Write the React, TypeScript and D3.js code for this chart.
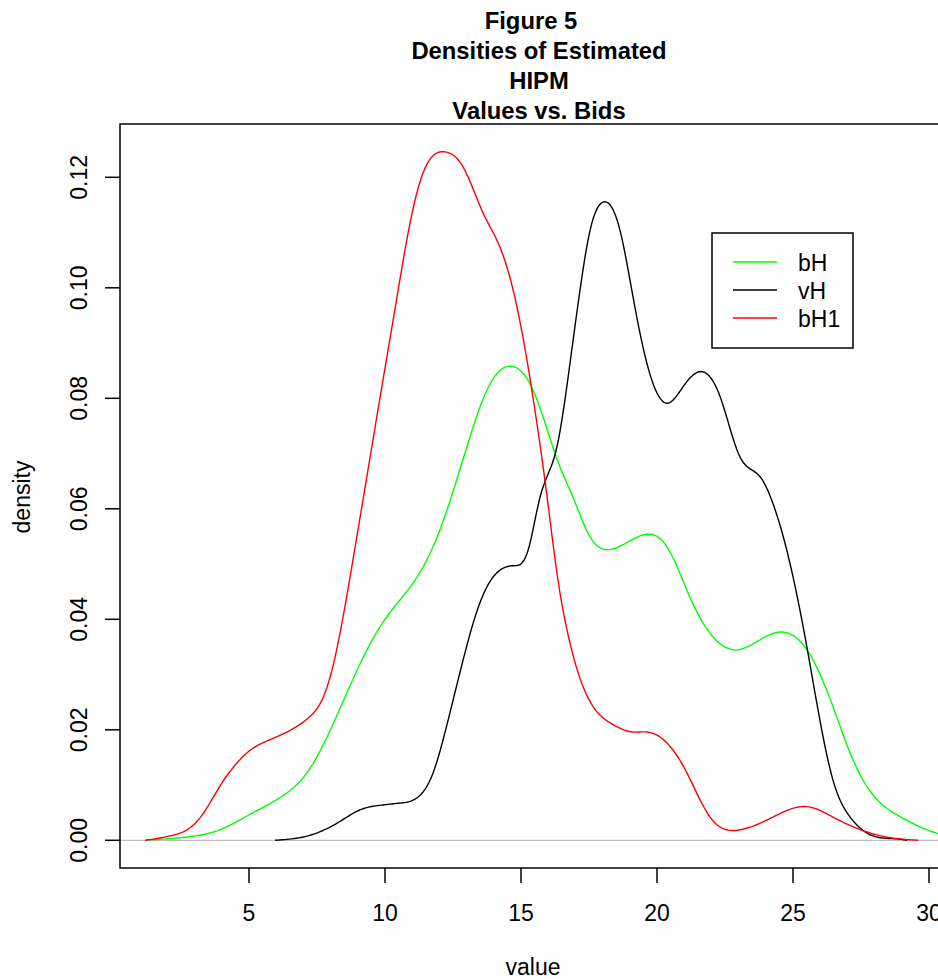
import * as d3 from 'd3';
import * as React from 'react';

// density curves (x = value, y = density)
const bHx = [1.18, 2.72, 3.93, 5.15, 6.4, 7.13, 7.87, 8.6, 9.34, 10.07, 11.2, 12.02, 13.01, 13.75, 14.67, 15.44, 16.43, 16.91, 17.54, 18.2, 19.63, 20.37, 21.21, 22.06, 22.98, 23.79, 24.6, 25.51, 26.47, 27.1, 27.72, 28.93, 30.29, 31.1];
const bHy = [0, 0.0006, 0.0019, 0.005, 0.0086, 0.0122, 0.0187, 0.0267, 0.0345, 0.0405, 0.0478, 0.0562, 0.0712, 0.0815, 0.0858, 0.0815, 0.0676, 0.0621, 0.0549, 0.0526, 0.0554, 0.0531, 0.044, 0.0368, 0.0345, 0.0363, 0.0377, 0.0345, 0.0242, 0.0158, 0.0097, 0.0043, 0.0013, 0.0006];

const vHx = [5.96, 6.99, 8.24, 9.08, 9.93, 10.49, 11.18, 11.76, 12.13, 12.5, 12.87, 13.24, 13.75, 14.23, 14.71, 15.26, 15.7, 16.32, 16.8, 17.17, 17.54, 18.01, 18.64, 19.12, 19.63, 20.37, 20.96, 21.54, 22.32, 23.05, 23.79, 24.26, 24.89, 25.51, 25.92, 26.47, 27.1, 27.72, 28.93, 29.19];
const vHy = [0, 0.0006, 0.0031, 0.0055, 0.0064, 0.0067, 0.0077, 0.0121, 0.0181, 0.0253, 0.0326, 0.0393, 0.0459, 0.0489, 0.0497, 0.0525, 0.0621, 0.0712, 0.0863, 0.0996, 0.1104, 0.1155, 0.1104, 0.0983, 0.0863, 0.0791, 0.0821, 0.0848, 0.0803, 0.0694, 0.0658, 0.061, 0.0501, 0.035, 0.0236, 0.0109, 0.0042, 0.0013, 0.0002, 0];

const bH1x = [1.18, 1.6, 2.1, 2.72, 3.31, 3.93, 4.56, 5.04, 5.77, 6.62, 7.24, 7.72, 8.09, 8.46, 8.82, 9.82, 10.44, 10.92, 11.4, 12.21, 12.87, 13.6, 14.23, 14.71, 15.07, 15.44, 15.96, 16.36, 16.69, 17.65, 18.3, 19.12, 19.63, 20.37, 21.1, 21.95, 23.05, 24.26, 25.51, 26.47, 27.72, 28.68, 29.6];
const bH1y = [0, 0.0003, 0.0008, 0.0019, 0.0048, 0.0098, 0.014, 0.0163, 0.0182, 0.0202, 0.0224, 0.0258, 0.0316, 0.0405, 0.0507, 0.0802, 0.0983, 0.1117, 0.1208, 0.1246, 0.1219, 0.1136, 0.1073, 0.0996, 0.0911, 0.0802, 0.0621, 0.0471, 0.0381, 0.0242, 0.0212, 0.0196, 0.0196, 0.0176, 0.0122, 0.0042, 0.0019, 0.0042, 0.0061, 0.0042, 0.0015, 0.0004, 0];

const seriesNames = ['bH', 'vH', 'bH1'];
const seriesColors = ['#00ff00', '#000000', '#ff0000'];
const xTicks = [5, 10, 15, 20, 25, 30];
const yTicks = [0, 0.02, 0.04, 0.06, 0.08, 0.1, 0.12];
const titleLines = ['Densities of Estimated', 'HIPM', 'Values vs. Bids'];

const W = 938;
const H = 979;
const left = 120;
const right = 958;
const top = 124;
const bottom = 868;
const font = 'Liberation Sans, Arial, Helvetica, sans-serif';

// natural cubic spline in x, so that uneven point spacing does not kink the line
function smooth(xs: number[], ys: number[]): [number, number][] {
  const n = xs.length;
  const h = d3.range(n - 1).map(i => xs[i + 1] - xs[i]);
  const m = new Array(n).fill(0);
  const a = new Array(n).fill(0);
  const b = new Array(n).fill(1);
  const c = new Array(n).fill(0);
  const r = new Array(n).fill(0);
  for (let i = 1; i < n - 1; i++) {
    a[i] = h[i - 1];
    b[i] = 2 * (h[i - 1] + h[i]);
    c[i] = h[i];
    r[i] = 6 * ((ys[i + 1] - ys[i]) / h[i] - (ys[i] - ys[i - 1]) / h[i - 1]);
  }
  for (let i = 1; i < n; i++) {
    const w = a[i] / b[i - 1];
    b[i] -= w * c[i - 1];
    r[i] -= w * r[i - 1];
  }
  m[n - 1] = r[n - 1] / b[n - 1];
  for (let i = n - 2; i >= 0; i--) m[i] = (r[i] - c[i] * m[i + 1]) / b[i];

  const out: [number, number][] = [];
  for (let i = 0; i < n - 1; i++) {
    const steps = 12;
    for (let k = 0; k < steps; k++) {
      const t = xs[i] + (h[i] * k) / steps;
      const A = (xs[i + 1] - t) / h[i];
      const B = (t - xs[i]) / h[i];
      const v = A * ys[i] + B * ys[i + 1] +
        ((A * A * A - A) * m[i] + (B * B * B - B) * m[i + 1]) * h[i] * h[i] / 6;
      out.push([t, Math.max(0, v)]);
    }
  }
  out.push([xs[n - 1], ys[n - 1]]);
  return out;
}

export default function App() {
  const x = d3.scaleLinear().domain([5, 30]).range([249, 929]);
  const y = d3.scaleLinear().domain([0, 0.12]).range([840.3, 177.3]);

  const line = d3.line<[number, number]>()
    .x(d => x(d[0]))
    .y(d => y(d[1]));

  const series = [smooth(bHx, bHy), smooth(vHx, vHy), smooth(bH1x, bH1y)];
  const legendY = [262, 290, 318];

  return (
    <svg width={W} height={H} style={{ position: 'absolute', left: 0, top: 0, background: '#fff' }}
      fontFamily={font}>
      <defs>
        <clipPath id='plotclip'>
          <rect x={left} y={top} width={right - left} height={bottom - top} />
        </clipPath>
      </defs>

      <text x={531} y={29} textAnchor='middle' fontSize={23.8} fontWeight='bold'>Figure 5</text>
      {titleLines.map((t, i) => (
        <text key={t} x={539} y={59 + i * 30} textAnchor='middle' fontSize={23.8} fontWeight='bold'>{t}</text>
      ))}

      <line x1={left} x2={right} y1={y(0)} y2={y(0)} stroke='#bebebe' strokeWidth={1.2} />

      <g clipPath='url(#plotclip)' fill='none' strokeWidth={1.4} strokeLinejoin='round'>
        {series.map((s, i) => (
          <path key={seriesNames[i]} d={line(s) || ''} stroke={seriesColors[i]} />
        ))}
      </g>

      <rect x={left} y={top} width={right - left} height={bottom - top} fill='none' stroke='#000' strokeWidth={1.5} />

      {xTicks.map(t => (
        <g key={t}>
          <line x1={x(t)} x2={x(t)} y1={bottom} y2={bottom + 15} stroke='#000' strokeWidth={1.5} />
          <text x={x(t)} y={921} textAnchor='middle' fontSize={23}>{t}</text>
        </g>
      ))}
      {yTicks.map(t => (
        <g key={t}>
          <line x1={left - 15} x2={left} y1={y(t)} y2={y(t)} stroke='#000' strokeWidth={1.5} />
          <text transform={`translate(87,${y(t)}) rotate(-90)`} textAnchor='middle' fontSize={23}>
            {d3.format('.2f')(t)}
          </text>
        </g>
      ))}

      <text x={533} y={975} textAnchor='middle' fontSize={23}>value</text>
      <text transform={`translate(30,497) rotate(-90)`} textAnchor='middle' fontSize={23}>density</text>

      <rect x={712} y={233} width={141} height={115} fill='#fff' stroke='#000' strokeWidth={1.5} />
      {seriesNames.map((n, i) => (
        <g key={n}>
          <line x1={733} x2={777} y1={legendY[i]} y2={legendY[i]} stroke={seriesColors[i]} strokeWidth={1.4} />
          <text x={798} y={legendY[i] + 9} fontSize={23}>{n}</text>
        </g>
      ))}
    </svg>
  );
}
